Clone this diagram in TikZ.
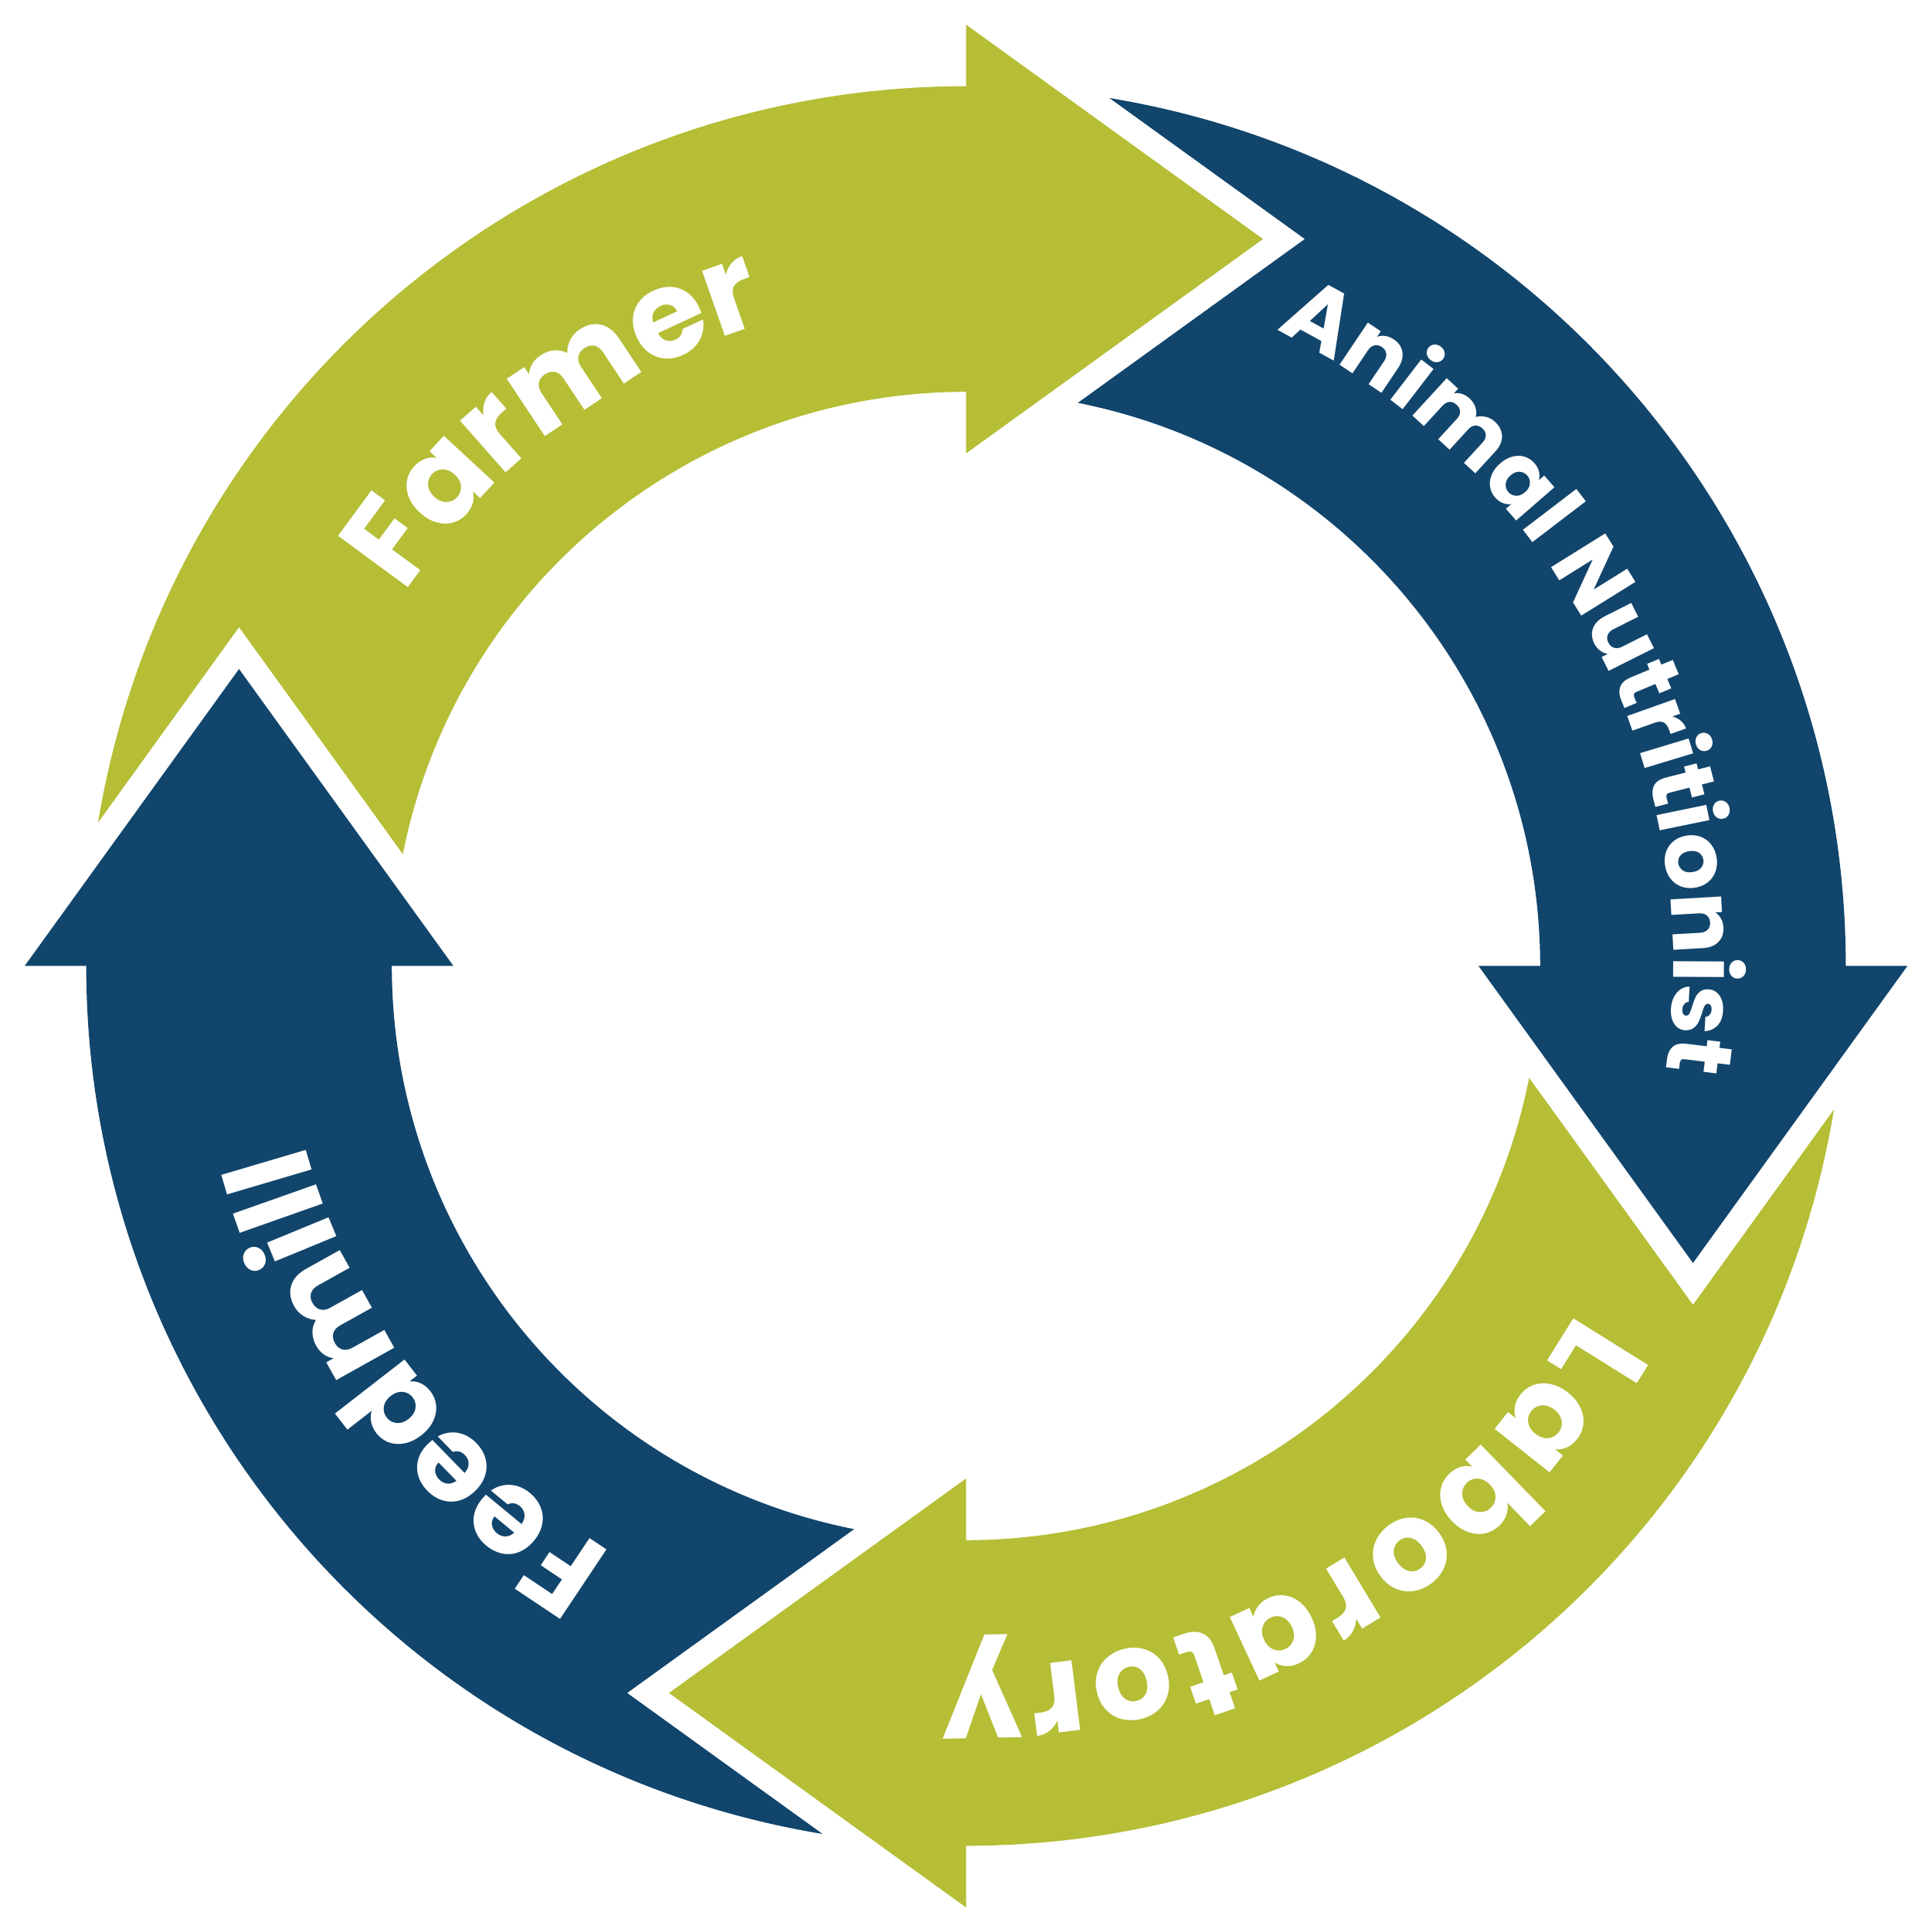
\documentclass[tikz,border=0pt]{standalone}
\usepackage{fontspec}
\newfontfamily\lblf{Poppins}
\usetikzlibrary{decorations.text}
\definecolor{cgreen}{RGB}{181,190,53}
\definecolor{cblue}{RGB}{17,69,108}
\newcommand\lblfont[1]{\lblf\bfseries\fontsize{#1}{#1}\selectfont}
\tikzset{
  ringlabel/.style n args={2}{decorate, decoration={text along path, text={|\lblfont{#2}|#1}, text align=fit to path, text color=white}}
}
\newcommand\arrowpiece{%
  (170.61:7.14) arc[start angle=170.61, end angle=90, radius=7.14]
  -- (0,7.64) -- (2.41,5.90) -- (0,4.16) -- (0,4.66)
  arc[start angle=90, end angle=168.76, radius=4.66]
  -- (-5.90,2.75) -- cycle}
\begin{document}
\begin{tikzpicture}
\useasboundingbox (-7.84,-7.84) rectangle (7.84,7.84);
\fill[white] (-7.84,-7.84) rectangle (7.84,7.84);
% four arrows
\fill[cgreen] \arrowpiece;
\begin{scope}[rotate=-90]\fill[cblue] \arrowpiece;\end{scope}
\begin{scope}[rotate=-180]\fill[cgreen] \arrowpiece;\end{scope}
\begin{scope}[rotate=-270]\fill[cblue] \arrowpiece;\end{scope}
% labels
\path[ringlabel={Farmer}{28.5pt}] (146.5:5.47) arc[start angle=146.5, end angle=107.8, radius=5.47];
\path[ringlabel={Animal Nutritionist}{21pt}] (64:5.74) arc[start angle=64, end angle=-8.5, radius=5.74];
\path[ringlabel={Laboratory}{29pt}] (-29.5:5.70) arc[start angle=-29.5, end angle=-92, radius=5.70];
\path[ringlabel={Feedmill}{27.5pt}] (239:5.56) arc[start angle=239, end angle=195, radius=5.56];
\end{tikzpicture}
\end{document}
